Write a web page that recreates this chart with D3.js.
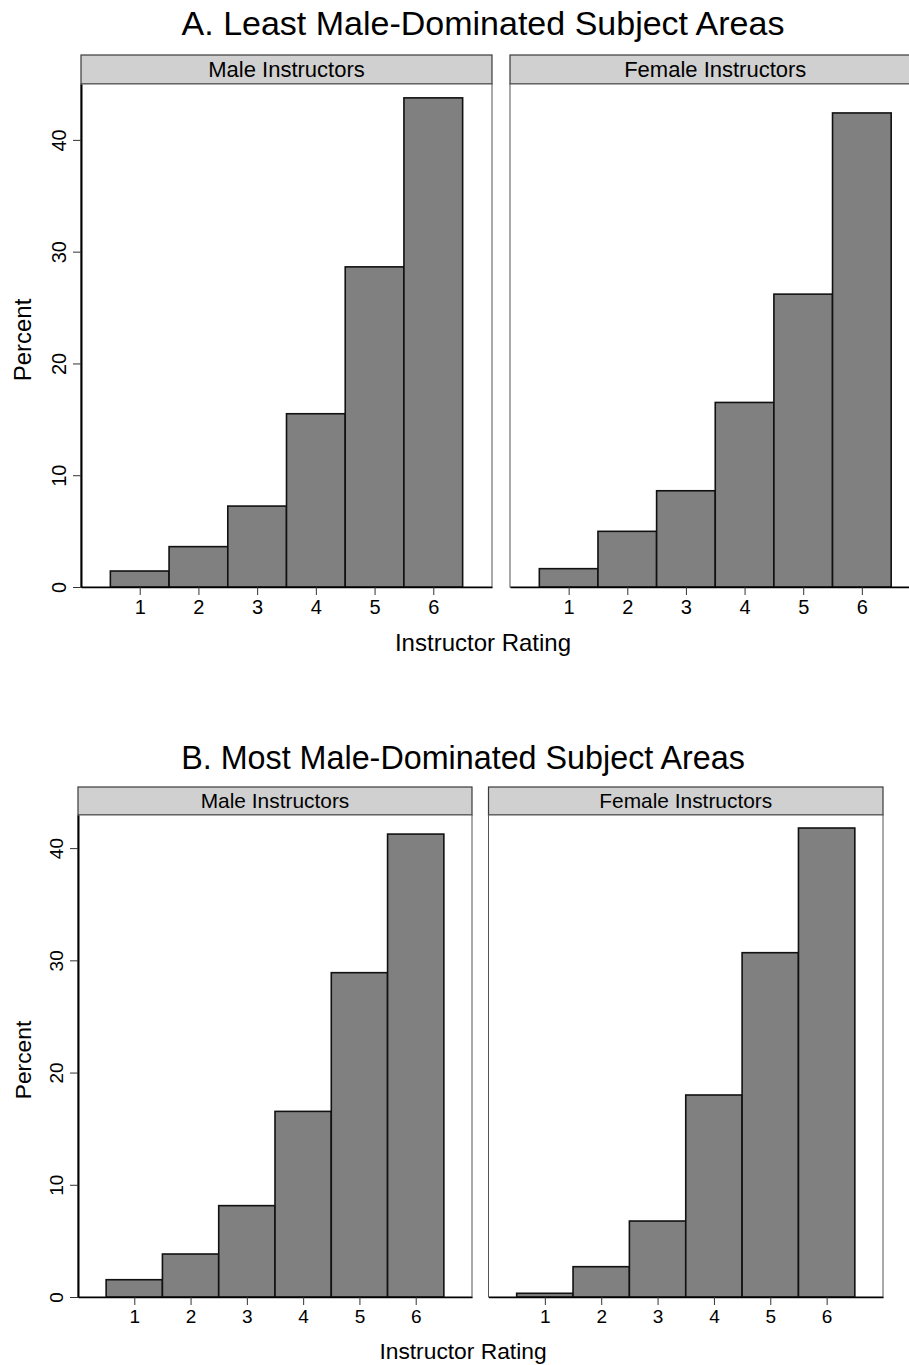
<!DOCTYPE html>
<html>
<head>
<meta charset="utf-8">
<script src="https://cdn.jsdelivr.net/npm/d3@7"></script>
<style>
  body { margin: 0; background: #fff; }
  svg text { font-family: "Liberation Sans", Arial, Helvetica, sans-serif; fill: #000; }
</style>
</head>
<body>
<script>
'use strict';

// rating categories and percent per rating
const ratings = [1, 2, 3, 4, 5, 6];
const leastMale   = [1.43, 3.61, 7.24, 15.5, 28.64, 43.76];
const leastFemale = [1.64, 4.98, 8.61, 16.51, 26.2, 42.41];
const mostMale    = [1.54, 3.83, 8.14, 16.54, 28.9, 41.25];
const mostFemale  = [0.33, 2.70, 6.77, 18.0, 30.68, 41.79];
const yTicks = [0, 10, 20, 30, 40];
const facetLabels = ["Male Instructors", "Female Instructors"];
const panelTitles = ["A. Least Male-Dominated Subject Areas", "B. Most Male-Dominated Subject Areas"];

const width = 909, height = 1365;

const svg = d3.select("body").append("svg")
    .attr("width", width)
    .attr("height", height);

// layout of each panel (pixels); panel B is drawn slightly smaller, so k scales its fonts
const panels = [
  {title: panelTitles[0], titleX: 483, titleY: 35, series: [leastMale, leastFemale], k: 1,
   stripTop: 55, plotTop: 84, plotBottom: 587, yMax: 45,
   facets: [[81, 492], [510, 920.5]], xLabelX: 483, xLabelY: 651, yLabelY: 340},
  {title: panelTitles[1], titleX: 463, titleY: 769, series: [mostMale, mostFemale], k: 0.95,
   stripTop: 787, plotTop: 815, plotBottom: 1297, yMax: 42.95,
   facets: [[78, 472], [488.5, 883]], xLabelX: 463, xLabelY: 1359, yLabelY: 1060}
];

panels.forEach(function(p) {
  const g = svg.append("g");
  const fs = (n) => (n * p.k) + "px";

  g.append("text")
      .attr("x", p.titleX)
      .attr("y", p.titleY)
      .attr("text-anchor", "middle")
      .style("font-size", fs(34))
      .text(p.title);

  const y = d3.scaleLinear().domain([0, p.yMax]).range([p.plotBottom, p.plotTop]);

  p.facets.forEach(function(f, i) {
    const x = d3.scaleLinear().domain([0, 7]).range(f);
    const fg = g.append("g");

    // strip header
    fg.append("rect")
        .attr("x", f[0])
        .attr("y", p.stripTop)
        .attr("width", f[1] - f[0])
        .attr("height", p.plotTop - p.stripTop)
        .attr("fill", "#d0d0d0")
        .attr("stroke", "#3a3a3a")
        .attr("stroke-width", 1.2);

    fg.append("text")
        .attr("x", (f[0] + f[1]) / 2)
        .attr("y", p.plotTop - 7)
        .attr("text-anchor", "middle")
        .style("font-size", fs(22))
        .text(facetLabels[i]);

    // plot frame
    fg.append("rect")
        .attr("x", f[0])
        .attr("y", p.plotTop)
        .attr("width", f[1] - f[0])
        .attr("height", p.plotBottom - p.plotTop)
        .attr("fill", "#fff")
        .attr("stroke", "#555")
        .attr("stroke-width", 1);

    // bars
    fg.selectAll(".bar")
        .data(ratings.map((r, k) => ({r: r, v: p.series[i][k]})))
      .enter().append("rect")
        .attr("class", "bar")
        .attr("x", (d) => x(d.r - 0.5))
        .attr("y", (d) => y(d.v))
        .attr("width", (d) => x(d.r + 0.5) - x(d.r - 0.5))
        .attr("height", (d) => y(0) - y(d.v))
        .attr("fill", "#808080")
        .attr("stroke", "#111")
        .attr("stroke-width", 1.6);

    // x axis
    const xa = fg.append("g")
        .attr("transform", "translate(0," + p.plotBottom + ")")
        .call(d3.axisBottom(x).tickValues(ratings).tickFormat(d3.format("d"))
          .tickSize(8).tickSizeOuter(0).tickPadding(5));
    xa.select(".domain").attr("stroke", "#000").attr("stroke-width", 1.6);
    xa.selectAll(".tick line").attr("stroke", "#333");
    xa.selectAll(".tick text")
        .attr("font-family", null)
        .style("font-size", fs(20));

    if (i === 0) {
      const ya = fg.append("g")
          .attr("transform", "translate(" + f[0] + ",0)")
          .call(d3.axisLeft(y).tickValues(yTicks).tickFormat(d3.format("d"))
            .tickSize(8).tickSizeOuter(0));
      ya.select(".domain").attr("stroke", "#000").attr("stroke-width", 2);
      ya.selectAll(".tick line").attr("stroke", "#333");
      ya.selectAll(".tick text")
          .attr("font-family", null)
          .attr("x", null).attr("dy", null)
          .attr("text-anchor", "middle")
          .attr("transform", "translate(-15,0) rotate(-90)")
          .style("font-size", fs(20));
    }
  });

  g.append("text")
      .attr("transform", "translate(31," + p.yLabelY + ") rotate(-90)")
      .attr("text-anchor", "middle")
      .style("font-size", fs(24))
      .text("Percent");

  g.append("text")
      .attr("x", p.xLabelX)
      .attr("y", p.xLabelY)
      .attr("text-anchor", "middle")
      .style("font-size", fs(24))
      .text("Instructor Rating");
});
</script>
</body>
</html>
